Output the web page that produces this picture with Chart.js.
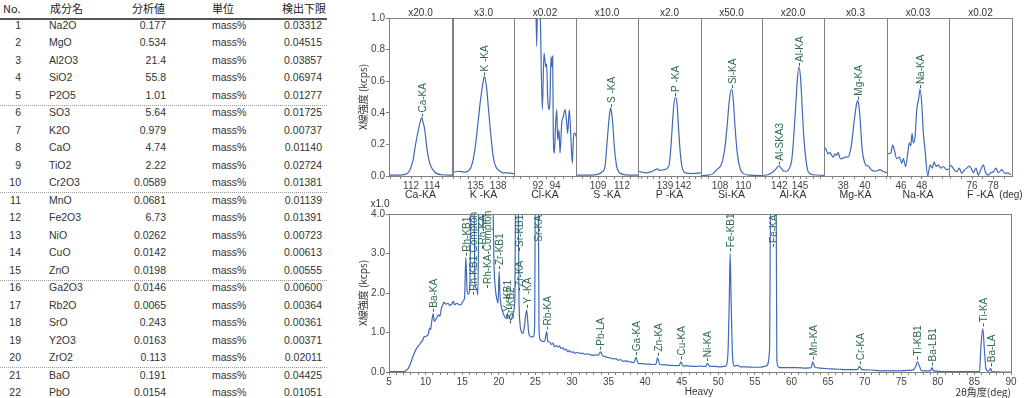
<!DOCTYPE html>
<html>
<head>
<meta charset="utf-8">
<script src="https://cdn.jsdelivr.net/npm/chart.js@4.4.1/dist/chart.umd.min.js"></script>
<style>
html, body { margin: 0; padding: 0; background: #fff; width: 1024px; height: 398px; overflow: hidden; }
#wrap { position: relative; width: 1024px; height: 398px; }
canvas { position: absolute; }
.t { position: absolute; font-family: 'Liberation Sans', Arial, sans-serif; font-size: 10.5px; color: #333; line-height: 12px; white-space: nowrap; }
.h { font-family: 'Noto Sans CJK JP', sans-serif; font-size: 11px; color: #222; line-height: 14px; }
.rule { position: absolute; left: 0; width: 327px; }
</style>
</head>
<body>
<div id="wrap"></div>
<script>
// ---- 表のデータ ----
const tableHeaders = ['No.', '成分名', '分析値', '単位', '検出下限'];
const compNames = ['Na2O','MgO','Al2O3','SiO2','P2O5','SO3','K2O','CaO','TiO2','Cr2O3','MnO','Fe2O3','NiO','CuO','ZnO','Ga2O3','Rb2O','SrO','Y2O3','ZrO2','BaO','PbO'];
const compValues = ['0.177','0.534','21.4','55.8','1.01','5.64','0.979','4.74','2.22','0.0589','0.0681','6.73','0.0262','0.0142','0.0198','0.0146','0.0065','0.243','0.0163','0.113','0.191','0.0154'];
const compUnit = 'mass%';
const detLimits = ['0.03312','0.04515','0.03857','0.06974','0.01277','0.01725','0.00737','0.01140','0.02724','0.01381','0.01139','0.01391','0.00723','0.00613','0.00555','0.00600','0.00364','0.00361','0.00371','0.02011','0.04425','0.01051'];

// ---- 上段 (軽元素) パネル ----
const topPanelNames = ['Ca-KA','K -KA','Cl-KA','S -KA','P -KA','Si-KA','Al-KA','Mg-KA','Na-KA','F -KA'];
const topPanelScales = ['x20.0','x3.0','x0.02','x10.0','x2.0','x50.0','x20.0','x0.3','x0.03','x0.02'];
const topPanelRanges = [[109.9,115.9],[132.0,140.1],[89.18,96.47],[106.25,114.0],[134.5,145.0],[106.37,111.6],[139.49,148.48],[36.22,42.04],[44.64,50.64],[73.84,79.75]];
const topPanelTicks = [[112,114],[135,138],[92,94],[109,112],[139,142],[108,110],[142,145],[38,40],[46,48],[76,78]];

// 2θ(deg), kcps
const caKA = [[109.9,0.005],[110.95,0.005],[111.43,0.01],[111.71,0.02],[111.9,0.04],[112.19,0.10],[112.38,0.18],[112.57,0.25],[112.76,0.31],[112.9,0.35],[113.02,0.37],[113.14,0.34],[113.29,0.30],[113.52,0.17],[113.71,0.10],[113.9,0.06],[114.19,0.03],[114.48,0.015],[114.95,0.008],[115.9,0.005]];
const kKA = [[132.0,0.025],[132.78,0.03],[133.44,0.025],[133.96,0.03],[134.35,0.05],[134.74,0.12],[135.0,0.2],[135.26,0.31],[135.65,0.48],[135.98,0.59],[136.17,0.63],[136.43,0.57],[136.7,0.43],[136.96,0.29],[137.35,0.12],[137.67,0.06],[137.98,0.04],[138.65,0.02],[139.17,0.02],[140.1,0.015]];
const clKA = [[91.7,1.3],[91.85,0.82],[92.0,1.3],[92.24,1.1],[92.51,0.42],[92.71,0.78],[92.91,0.69],[93.02,0.71],[93.14,0.50],[93.26,0.42],[93.41,0.48],[93.53,0.755],[93.65,0.69],[93.73,0.76],[93.8,0.27],[93.92,0.145],[94.08,0.335],[94.2,0.42],[94.32,0.23],[94.47,0.29],[94.59,0.145],[94.79,0.335],[94.98,0.375],[95.18,0.42],[95.38,0.335],[95.49,0.27],[95.68,0.42],[95.88,0.23],[96.04,0.08],[96.2,0.27],[96.35,0.27],[96.47,0.25]];
const sKA = [[106.25,0.005],[108.0,0.005],[109.0,0.01],[109.5,0.025],[109.88,0.06],[110.09,0.185],[110.29,0.31],[110.46,0.40],[110.59,0.43],[110.75,0.38],[110.84,0.335],[111.04,0.185],[111.34,0.06],[111.63,0.025],[112.0,0.012],[113.0,0.005],[114.0,0.005]];
const pKA = [[134.5,0.03],[135.17,0.025],[135.83,0.02],[136.5,0.025],[137.17,0.035],[137.67,0.045],[138.17,0.035],[138.83,0.04],[139.62,0.06],[139.95,0.165],[140.17,0.29],[140.45,0.44],[140.72,0.50],[141.0,0.46],[141.28,0.29],[141.55,0.145],[141.83,0.06],[142.38,0.02],[143.5,0.015],[145.0,0.02]];
const siKA = [[106.37,0.003],[106.97,0.005],[107.4,0.015],[107.72,0.04],[108.15,0.08],[108.43,0.185],[108.63,0.335],[108.8,0.48],[109.0,0.55],[109.14,0.48],[109.29,0.31],[109.48,0.145],[109.71,0.05],[110.0,0.015],[110.57,0.005],[111.6,0.003]];
const alKA = [[139.49,0.004],[140.36,0.008],[140.9,0.02],[141.3,0.035],[141.62,0.05],[141.91,0.065],[142.35,0.045],[142.68,0.03],[143.07,0.03],[143.48,0.05],[143.8,0.10],[144.03,0.21],[144.38,0.44],[144.61,0.61],[144.86,0.69],[145.1,0.61],[145.33,0.42],[145.58,0.23],[145.87,0.10],[146.2,0.025],[146.93,0.008],[148.48,0.004]];
const mgKA = [[36.22,0.18],[36.4,0.17],[36.59,0.14],[36.77,0.15],[36.93,0.13],[37.08,0.12],[37.23,0.14],[37.39,0.13],[37.54,0.15],[37.7,0.11],[37.88,0.11],[38.16,0.12],[38.46,0.12],[38.62,0.15],[38.78,0.21],[39.02,0.355],[39.24,0.46],[39.33,0.477],[39.45,0.44],[39.54,0.375],[39.75,0.165],[40.0,0.08],[40.14,0.065],[40.31,0.063],[40.47,0.05],[40.62,0.038],[40.93,0.03],[41.2,0.035],[41.39,0.04],[41.67,0.03],[42.04,0.02]];
const naKA = [[44.64,0.14],[45.0,0.145],[45.2,0.196],[45.35,0.165],[45.58,0.11],[45.84,0.12],[46.07,0.08],[46.22,0.11],[46.45,0.06],[46.65,0.145],[46.8,0.21],[46.94,0.19],[47.06,0.27],[47.19,0.21],[47.36,0.25],[47.52,0.42],[47.71,0.49],[47.84,0.55],[48.0,0.46],[48.16,0.27],[48.32,0.165],[48.58,0.0],[48.81,0.07],[49.03,0.05],[49.19,0.09],[49.39,0.06],[49.61,0.07],[49.84,0.05],[50.09,0.06],[50.42,0.04],[50.64,0.045]];
const fKA = [[73.84,0.07],[74.1,0.06],[74.31,0.042],[74.57,0.027],[74.81,0.05],[75.03,0.017],[75.25,0.035],[75.5,0.05],[75.75,0.063],[75.97,0.042],[76.12,0.02],[76.37,0.05],[76.59,0.006],[76.82,0.04],[77.06,0.07],[77.25,0.027],[77.53,0.006],[77.75,0.02],[78.0,0.027],[78.25,0.05],[78.46,0.02],[78.78,0.04],[79.09,0.017],[79.4,0.02],[79.63,0.006]];
const topSpectra = [caKA, kKA, clKA, sKA, pKA, siKA, alKA, mgKA, naKA, fKA];

// ピーク名 [2θ, kcps, 名前]
const topPeaks = [
  [[113.02,0.37,'Ca-KA']],
  [[136.17,0.63,'K -KA']],
  [],
  [[110.59,0.43,'S -KA']],
  [[140.72,0.50,'P -KA']],
  [[109.0,0.55,'Si-KA']],
  [[141.91,0.065,'Al-SKA3'],[144.86,0.69,'Al-KA']],
  [[39.33,0.477,'Mg-KA']],
  [[47.84,0.55,'Na-KA']],
  []
];

// ---- 下段 (重元素) スキャン ----
const heavyRange = [5, 90];
const heavyTickLabels = [5,10,15,20,25,30,35,40,45,50,55,60,65,70,75,80,85,90];
const heavyScan = [[5,0.01],[6,0.01],[7,0.01],[7.3,0.03],[7.6,0.08],[7.97,0.23],[8.29,0.40],[8.65,0.56],[8.97,0.65],[9.2,0.70],[9.43,0.77],[9.6,0.80],[9.75,0.88],[10.0,0.90],[10.2,0.92],[10.34,0.94],[10.57,1.11],[10.7,1.08],[10.84,1.28],[11.03,1.47],[11.2,1.28],[11.35,1.32],[11.5,1.36],[11.76,1.45],[11.94,1.41],[12.17,1.62],[12.35,1.70],[12.5,1.77],[12.76,1.72],[13.08,1.74],[13.3,1.68],[13.45,1.70],[13.6,1.72],[13.77,1.79],[14.0,1.70],[14.15,1.73],[14.3,1.74],[14.6,1.70],[14.9,1.72],[15.14,1.80],[15.32,1.87],[15.5,2.9],[15.68,2.04],[15.87,1.97],[16.05,2.12],[16.2,4.6],[16.6,4.6],[16.75,2.2],[16.96,2.12],[17.15,1.95],[17.3,4.6],[17.7,4.6],[17.85,3.6],[18.0,4.6],[19.15,4.6],[19.36,2.67],[19.55,2.08],[19.77,1.82],[19.9,1.74],[20.05,2.55],[20.18,1.91],[20.36,1.65],[20.6,1.49],[20.8,1.40],[21.05,1.36],[21.27,1.44],[21.5,1.36],[21.7,1.32],[21.95,1.49],[22.2,1.82],[22.3,4.6],[22.65,4.6],[22.75,2.0],[22.9,1.23],[23.1,1.02],[23.3,0.98],[23.5,1.15],[23.8,1.57],[23.95,1.32],[24.1,0.98],[24.45,0.89],[24.7,0.89],[24.9,1.15],[25.0,4.6],[25.4,4.6],[25.5,1.06],[25.7,0.81],[26.05,0.77],[26.3,0.80],[26.55,1.02],[26.7,0.77],[26.95,0.76],[27.2,0.70],[27.4,0.73],[27.6,0.64],[27.85,0.67],[28.1,0.63],[28.3,0.66],[28.5,0.60],[28.75,0.61],[29.0,0.56],[29.2,0.58],[29.45,0.51],[29.7,0.54],[29.9,0.50],[30.2,0.51],[30.4,0.47],[30.7,0.50],[31.1,0.47],[31.4,0.48],[31.8,0.45],[32.1,0.46],[32.5,0.44],[33.0,0.42],[33.3,0.44],[33.6,0.42],[33.9,0.51],[34.2,0.41],[34.5,0.39],[34.8,0.37],[35.2,0.36],[35.65,0.33],[36.0,0.34],[36.3,0.30],[36.7,0.31],[37.0,0.27],[37.4,0.28],[37.8,0.26],[38.2,0.25],[38.5,0.24],[38.75,0.37],[39.05,0.22],[39.6,0.21],[40.2,0.20],[40.6,0.20],[41.0,0.19],[41.45,0.19],[41.7,0.36],[42.0,0.19],[42.5,0.18],[42.9,0.18],[43.4,0.17],[43.8,0.17],[44.2,0.16],[44.65,0.16],[44.9,0.26],[45.2,0.15],[45.6,0.16],[46.0,0.15],[46.5,0.14],[47.0,0.14],[47.5,0.15],[48.0,0.14],[48.3,0.14],[48.5,0.22],[48.85,0.14],[49.5,0.14],[50.2,0.13],[50.8,0.14],[51.1,0.16],[51.35,0.6],[51.5,1.82],[51.62,3.0],[51.75,1.82],[51.95,0.4],[52.2,0.15],[52.7,0.17],[53.0,0.13],[53.9,0.13],[55.0,0.12],[55.7,0.12],[56.3,0.14],[56.6,0.16],[57.0,0.55],[57.16,4.6],[57.9,4.6],[58.0,0.31],[58.2,0.13],[58.4,0.11],[59.5,0.11],[60.7,0.11],[62.0,0.10],[62.7,0.11],[62.9,0.26],[63.2,0.12],[64.0,0.10],[65.3,0.08],[66.5,0.07],[67.5,0.06],[69.0,0.06],[69.3,0.14],[69.6,0.06],[71.0,0.05],[72.1,0.03],[74.4,0.03],[76.0,0.04],[76.7,0.06],[77.0,0.15],[77.2,0.26],[77.5,0.14],[77.8,0.03],[78.5,0.03],[79.0,0.03],[79.2,0.11],[79.4,0.03],[81.2,0.01],[83.5,0.01],[85.5,0.01],[85.7,0.02],[85.9,0.68],[86.15,1.10],[86.35,0.6],[86.6,0.06],[87.0,0.02],[87.2,0.09],[87.4,0.01],[89,0.0],[90,0.0]];
const heavyPeaks = [[11.03,1.50,'Ba-KA'],[15.55,2.92,'Rh-KB1'],[16.45,1.93,'Rh-KB1-Compton'],[17.65,3.1,'Rh-KA'],[18.4,2.1,'Rh-KA-Compton'],[20.05,2.58,'Zr-KB1'],[21.1,1.40,'Y -KB1'],[21.55,1.20,'Sr-KB2'],[22.7,2.03,'Zr-KA'],[22.7,3.04,'Sr-KB1'],[23.8,1.60,'Y -KA'],[25.3,3.17,'Sr-KA'],[26.6,1.05,'Rb-KA'],[33.9,0.54,'Pb-LA'],[38.75,0.40,'Ga-KA'],[41.7,0.39,'Zn-KA'],[44.9,0.29,'Cu-KA'],[48.5,0.25,'Ni-KA'],[51.62,3.03,'Fe-KB1'],[57.52,3.14,'Fe-KA'],[62.9,0.29,'Mn-KA'],[69.3,0.17,'Cr-KA'],[77.2,0.29,'Ti-KB1'],[79.2,0.14,'Ba-LB1'],[86.15,1.13,'Ti-KA'],[87.2,0.12,'Ba-LA']];

// ---- 見た目 ----
const LINE_BLUE = '#4169b8';
const LABEL_GREEN = '#2d6b4f';
const FRAME = '#808080';
const FONT = "'Liberation Sans', Arial, sans-serif";
const JFONT = "'Noto Sans CJK JP', sans-serif";
const yTitle = 'X線強度 (kcps)';

const wrap = document.getElementById('wrap');

// 表
function addText(txt, x, cy, align, cls, lh) {
  const d = document.createElement('div');
  d.className = 't ' + (cls || '');
  d.textContent = txt;
  d.style.top = (cy - lh / 2) + 'px';
  if (align === 'right') d.style.right = (1024 - x) + 'px';
  else d.style.left = x + 'px';
  wrap.appendChild(d);
}
addText(tableHeaders[0], 3, 8, 'left', 'h', 14);
addText(tableHeaders[1], 50, 8, 'left', 'h', 14);
addText(tableHeaders[2], 165, 8, 'right', 'h', 14);
addText(tableHeaders[3], 212, 8, 'left', 'h', 14);
addText(tableHeaders[4], 326, 8, 'right', 'h', 14);
const hr = document.createElement('div');
hr.className = 'rule';
hr.style.top = '18px'; hr.style.height = '2px'; hr.style.background = '#555';
wrap.appendChild(hr);
compNames.forEach((n, i) => {
  const cy = 25 + i * 17.48;
  addText(String(i + 1), 21, cy, 'right', '', 12);
  addText(n, 49, cy, 'left', '', 12);
  addText(compValues[i], 166, cy, 'right', '', 12);
  addText(compUnit, 212, cy, 'left', '', 12);
  addText(detLimits[i], 322, cy, 'right', '', 12);
  if (i % 5 === 4 && i < compNames.length - 2) {
    const r = document.createElement('div');
    r.className = 'rule';
    r.style.top = Math.round(cy + 10) + 'px';
    r.style.borderTop = '1px dotted #999';
    wrap.appendChild(r);
  }
});

// グラフ
Chart.defaults.font.family = FONT;
Chart.defaults.font.size = 10;
Chart.defaults.color = '#444';

function decor(peaks, texts) {
  return {
    id: 'decor',
    afterDatasetsDraw(chart) {
      const { ctx, chartArea: a, scales } = chart;
      ctx.save();
      ctx.strokeStyle = FRAME; ctx.lineWidth = 1;
      ctx.strokeRect(a.left + 0.5, a.top + 0.5, a.right - a.left, a.bottom - a.top);
      ctx.fillStyle = LABEL_GREEN; ctx.strokeStyle = LABEL_GREEN;
      ctx.font = '10px ' + FONT;
      peaks.forEach(([vx, vy, txt]) => {
        const px = Math.round(scales.x.getPixelForValue(vx)) + 0.5;
        const py = scales.y.getPixelForValue(vy);
        ctx.beginPath(); ctx.moveTo(px, py - 1); ctx.lineTo(px, py - 4); ctx.stroke();
        ctx.save();
        ctx.translate(px, py - 5); ctx.rotate(-Math.PI / 2);
        ctx.textAlign = 'left'; ctx.textBaseline = 'middle';
        ctx.fillText(txt, 0, 0.5);
        ctx.restore();
      });
      ctx.fillStyle = '#333';
      texts.forEach(t => {
        ctx.font = t.font; ctx.textAlign = t.align; ctx.textBaseline = 'middle';
        ctx.fillText(t.text, t.x(a), t.y(a));
      });
      ctx.restore();
    }
  };
}

function minorTicks(scale) {
  const out = [];
  for (let v = Math.ceil(scale.min); v <= scale.max; v++) out.push({ value: v });
  scale.ticks = out;
}

function makeCanvas(left, top, w, h) {
  const c = document.createElement('canvas');
  c.width = w; c.height = h;
  c.style.left = left + 'px'; c.style.top = top + 'px';
  wrap.appendChild(c);
  return c;
}

function lineData(pairs) {
  return {
    datasets: [{
      data: pairs.map(p => ({ x: p[0], y: p[1] })),
      borderColor: LINE_BLUE, borderWidth: 1.2, pointRadius: 0,
      cubicInterpolationMode: 'monotone', fill: false
    }]
  };
}

function yScale(show, max, step) {
  return {
    type: 'linear', min: 0, max: max, display: show,
    border: { display: false },
    grid: { display: true, drawOnChartArea: false, drawTicks: true, tickLength: 3, color: FRAME },
    ticks: { stepSize: step, padding: 1, color: '#444', font: { size: 10 }, callback: v => v.toFixed(1) },
    title: { display: true, text: yTitle, color: '#333', font: { family: JFONT, size: 10 }, padding: { top: 17, bottom: 0 } },
    afterFit: s => { s.width = show ? 49 : 0; }
  };
}

// 上段パネルの位置
const panelEdges = [389, 452, 514, 576, 638, 701, 762, 824, 887, 949, 1012];
topPanelNames.forEach((name, i) => {
  const first = i === 0, last = i === topPanelNames.length - 1;
  const cLeft = first ? 340 : panelEdges[i];
  const padR = last ? 12 : 0;
  const w = panelEdges[i + 1] - cLeft + 1 + padR;
  const labelSet = topPanelTicks[i];
  const texts = [{ text: topPanelScales[i], font: '10px ' + FONT, align: 'center', x: a => (a.left + a.right) / 2, y: a => a.top - 5 }];
  if (last) texts.push({ text: '(deg)', font: '10px ' + FONT, align: 'center', x: a => a.right - 1, y: a => 195 });
  new Chart(makeCanvas(cLeft, 0, w, 201), {
    type: 'line',
    data: lineData(topSpectra[i]),
    options: {
      responsive: false, animation: false, devicePixelRatio: 1,
      layout: { padding: { top: 18, left: 0, right: padR + 1, bottom: 0 } },
      plugins: { legend: { display: false }, tooltip: { enabled: false } },
      scales: {
        x: {
          type: 'linear', min: topPanelRanges[i][0], max: topPanelRanges[i][1],
          border: { display: false },
          grid: { display: true, drawOnChartArea: false, drawTicks: true, tickLength: 3, color: FRAME },
          afterBuildTicks: minorTicks,
          ticks: { autoSkip: false, maxRotation: 0, padding: 1, color: '#444', font: { size: 10 },
            callback: v => labelSet.includes(v) ? String(v) : '' },
          title: { display: true, text: name, color: '#333', font: { size: 10.5 }, padding: { top: 0, bottom: 0 } },
          afterFit: s => { s.height = 25; }
        },
        y: yScale(first, 1.0, 0.2)
      }
    },
    plugins: [decor(topPeaks[i], texts)]
  });
});

// 下段
new Chart(makeCanvas(340, 195, 684, 203), {
  type: 'line',
  data: lineData(heavyScan),
  options: {
    responsive: false, animation: false, devicePixelRatio: 1,
    layout: { padding: { top: 19, left: 0, right: 13, bottom: 0 } },
    plugins: { legend: { display: false }, tooltip: { enabled: false } },
    scales: {
      x: {
        type: 'linear', min: heavyRange[0], max: heavyRange[1],
        border: { display: false },
        grid: { display: true, drawOnChartArea: false, drawTicks: true, tickLength: 3, color: FRAME },
        afterBuildTicks: minorTicks,
        ticks: { autoSkip: false, maxRotation: 0, padding: 1, color: '#444', font: { size: 10 },
          callback: v => heavyTickLabels.includes(v) ? String(v) : '' },
        title: { display: true, text: '2θ角度(deg)', align: 'end', color: '#333', font: { family: JFONT, size: 10 }, padding: { top: 0, bottom: 0 } },
        afterFit: s => { s.height = 26; }
      },
      y: yScale(true, 4.0, 1)
    }
  },
  plugins: [decor(heavyPeaks, [
    { text: 'x1.0', font: '10px ' + FONT, align: 'center', x: a => a.left - 9, y: a => a.top - 10 },
    { text: 'Heavy', font: '10px ' + FONT, align: 'center', x: a => 359, y: a => 197 }
  ])]
});
</script>
</body>
</html>
